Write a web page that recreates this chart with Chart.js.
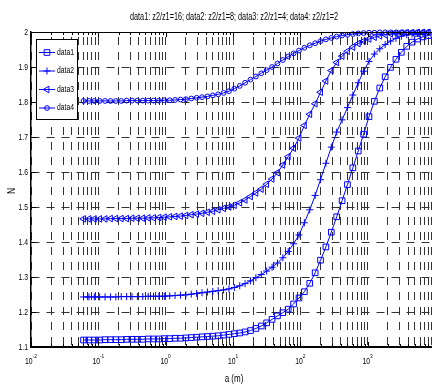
<!DOCTYPE html>
<html><head><meta charset="utf-8">
<script src="https://cdn.jsdelivr.net/npm/chart.js@4.4.1/dist/chart.umd.min.js"></script>
<style>
html,body{margin:0;padding:0;overflow:hidden;background:#fff;width:432px;height:385px}
#wrap{position:absolute;left:0;top:0;width:440px;height:385px}
</style></head>
<body><div id="wrap"><canvas id="c" width="440" height="385"></canvas></div>
<script>
const titleText = "data1: z2/z1=16; data2: z2/z1=8; data3: z2/z1=4; data4: z2/z1=2";
const xAxisLabel = "a (m)";
const yAxisLabel = "N";
const seriesNames = ["data1", "data2", "data3", "data4"];

const aValues = [0.060256, 0.072444, 0.087096, 0.10471, 0.12589, 0.15136, 0.18197, 0.21878, 0.26303, 0.31623,
  0.38019, 0.45709, 0.54954, 0.66069, 0.79433, 0.95499, 1.1482, 1.3804, 1.6596, 1.9953,
  2.3988, 2.8840, 3.4674, 4.1687, 5.0119, 6.0256, 7.2444, 8.7096, 10.471, 12.589,
  15.136, 18.197, 21.878, 26.303, 31.623, 38.019, 45.709, 54.954, 66.069, 79.433,
  95.499, 114.82, 138.04, 165.96, 199.53, 239.88, 288.40, 346.74, 416.87, 501.19,
  602.56, 724.44, 870.96, 1047.1, 1258.9, 1513.6, 1819.7, 2187.8, 2630.3, 3162.3,
  3801.9, 4570.9, 5495.4, 6606.9, 7943.3];

const data1 = [1.120, 1.120, 1.120, 1.120, 1.121, 1.121, 1.121, 1.121, 1.122, 1.122,
  1.122, 1.122, 1.123, 1.123, 1.123, 1.124, 1.124, 1.125, 1.125, 1.126,
  1.127, 1.128, 1.129, 1.130, 1.131, 1.132, 1.134, 1.136, 1.138, 1.140,
  1.143, 1.147, 1.153, 1.160, 1.169, 1.179, 1.189, 1.198, 1.208, 1.223,
  1.240, 1.258, 1.282, 1.312, 1.348, 1.386, 1.428, 1.472, 1.518, 1.564,
  1.612, 1.660, 1.708, 1.758, 1.802, 1.840, 1.872, 1.899, 1.922, 1.942,
  1.959, 1.971, 1.980, 1.986, 1.990];

const data2 = [1.243, 1.243, 1.243, 1.243, 1.243, 1.243, 1.243, 1.244, 1.244, 1.244,
  1.244, 1.244, 1.245, 1.245, 1.245, 1.245, 1.246, 1.247, 1.248, 1.249,
  1.251, 1.253, 1.255, 1.257, 1.259, 1.261, 1.263, 1.266, 1.270, 1.275,
  1.281, 1.289, 1.298, 1.307, 1.317, 1.328, 1.340, 1.355, 1.373, 1.395,
  1.420, 1.455, 1.492, 1.533, 1.578, 1.625, 1.671, 1.714, 1.749, 1.784,
  1.820, 1.855, 1.888, 1.916, 1.937, 1.952, 1.964, 1.974, 1.982, 1.988,
  1.992, 1.994, 1.996, 1.997, 1.998];

const data3 = [1.466, 1.466, 1.466, 1.466, 1.466, 1.467, 1.467, 1.467, 1.467, 1.468,
  1.468, 1.468, 1.469, 1.469, 1.470, 1.471, 1.472, 1.473, 1.474, 1.476,
  1.478, 1.480, 1.482, 1.485, 1.488, 1.492, 1.496, 1.500, 1.505, 1.512,
  1.520, 1.530, 1.540, 1.551, 1.565, 1.580, 1.598, 1.620, 1.644, 1.668,
  1.697, 1.733, 1.765, 1.795, 1.828, 1.860, 1.890, 1.913, 1.931, 1.945,
  1.957, 1.967, 1.974, 1.980, 1.985, 1.989, 1.992, 1.995, 1.996, 1.997,
  1.998, 1.998, 1.999, 1.999, 1.999];

const data4 = [1.803, 1.803, 1.803, 1.803, 1.803, 1.803, 1.803, 1.803, 1.804, 1.804,
  1.804, 1.804, 1.804, 1.804, 1.804, 1.805, 1.805, 1.806, 1.807, 1.808,
  1.810, 1.812, 1.814, 1.816, 1.819, 1.822, 1.826, 1.831, 1.838, 1.846,
  1.855, 1.864, 1.873, 1.882, 1.891, 1.900, 1.910, 1.920, 1.930, 1.939,
  1.947, 1.955, 1.962, 1.968, 1.974, 1.979, 1.983, 1.987, 1.990, 1.992,
  1.994, 1.996, 1.997, 1.998, 1.998, 1.999, 1.999, 1.999, 1.999, 1.999,
  1.999, 1.999, 1.999, 1.999, 1.999];

const xMajorTicks = [0.01, 0.1, 1, 10, 100, 1000, 10000];
const xLabelTicks = [0.01, 0.1, 1, 10, 100, 1000];
const xTickExponents = ["-2", "-1", "0", "1", "2", "3"];
const xMinorMultipliers = [2, 3, 4, 5, 6, 7, 8, 9];
const yTicks = [1.1, 1.2, 1.3, 1.4, 1.5, 1.6, 1.7, 1.8, 1.9, 2.0];
const yTickLabels = ["1.1", "1.2", "1.3", "1.4", "1.5", "1.6", "1.7", "1.8", "1.9", "2"];

const BLUE = '#0000ff';
const FONT = '"Liberation Sans", Arial, Helvetica, sans-serif';

const xGrid = [];
xMajorTicks.forEach((m, i) => {
  xGrid.push(m);
  if (i < xMajorTicks.length - 1) xMinorMultipliers.forEach(k => xGrid.push(+(m * k).toPrecision(6)));
});
const majorSet = new Set(xMajorTicks);

const pts = arr => aValues.map((a, i) => ({x: a, y: arr[i]}));
const markerStyles = [
  {pointStyle: 'rect', pointRadius: 4, pointRotation: 0},
  {pointStyle: 'cross', pointRadius: 3.5, pointRotation: 0},
  {pointStyle: 'triangle', pointRadius: 3.8, pointRotation: -90},
  {pointStyle: 'circle', pointRadius: 2.4, pointRotation: 0}
];
const seriesData = [data1, data2, data3, data4];

const datasets = seriesData.map((d, i) => Object.assign({
  label: seriesNames[i],
  data: pts(d),
  borderColor: BLUE,
  borderWidth: 1,
  pointBorderColor: BLUE,
  pointBackgroundColor: 'rgba(0,0,0,0)',
  pointBorderWidth: 1,
  fill: false,
  tension: 0,
  clip: false
}, markerStyles[i]));

function narrowText(ctx, text, x, y, size, sx, align, baseline) {
  ctx.save();
  ctx.font = size + 'px ' + FONT;
  ctx.textAlign = align;
  ctx.textBaseline = baseline;
  ctx.translate(x, y);
  ctx.scale(sx, 1);
  ctx.fillText(text, 0, 0);
  ctx.restore();
}

function drawMarker(ctx, style, radius, rotation, x, y) {
  if (Chart.helpers && Chart.helpers.drawPoint) {
    Chart.helpers.drawPoint(ctx, {pointStyle: style, radius: radius, rotation: rotation, borderWidth: 1}, x, y);
    return;
  }
  ctx.beginPath();
  if (style === 'circle') ctx.arc(x, y, radius, 0, Math.PI * 2);
  ctx.stroke();
}

const decor = {
  id: 'decor',
  afterDraw(chart) {
    const ctx = chart.ctx, ca = chart.chartArea, xs = chart.scales.x, ys = chart.scales.y;
    ctx.save();
    ctx.setLineDash([]);
    ctx.strokeStyle = '#000';
    ctx.lineWidth = 1;
    // top border
    ctx.beginPath();
    ctx.moveTo(ca.left, ca.top + 0.5);
    ctx.lineTo(ca.right, ca.top + 0.5);
    ctx.stroke();
    // inward tick marks
    ctx.beginPath();
    xGrid.forEach(v => {
      const px = Math.round(xs.getPixelForValue(v)) + 0.5;
      const len = majorSet.has(v) ? 5 : 3;
      ctx.moveTo(px, ca.bottom); ctx.lineTo(px, ca.bottom - len);
      ctx.moveTo(px, ca.top); ctx.lineTo(px, ca.top + len);
    });
    yTicks.forEach(v => {
      const py = Math.round(ys.getPixelForValue(v)) + 0.5;
      ctx.moveTo(ca.left, py); ctx.lineTo(ca.left + 5, py);
    });
    ctx.stroke();

    ctx.fillStyle = '#000';
    // y tick labels
    yTicks.forEach((v, i) => {
      narrowText(ctx, yTickLabels[i], ca.left - 3, ys.getPixelForValue(v) + 0.5, 8.5, 0.8, 'right', 'middle');
    });
    // x tick labels with superscript exponent
    xLabelTicks.forEach((v, i) => {
      const px = xs.getPixelForValue(v);
      ctx.font = '8.5px ' + FONT;
      const w1 = ctx.measureText('10').width * 0.8;
      ctx.font = '6px ' + FONT;
      const w2 = ctx.measureText(xTickExponents[i]).width * 0.8;
      const start = px - (w1 + w2) / 2;
      narrowText(ctx, '10', start, 364, 8.5, 0.8, 'left', 'alphabetic');
      narrowText(ctx, xTickExponents[i], start + w1, 357.5, 6, 0.8, 'left', 'alphabetic');
    });
    // axis titles
    narrowText(ctx, xAxisLabel, 234, 382, 10, 0.8, 'center', 'alphabetic');
    ctx.save();
    ctx.translate(12, 191);
    ctx.rotate(-Math.PI / 2);
    narrowText(ctx, yAxisLabel, 0, 0, 10, 0.85, 'center', 'middle');
    ctx.restore();
    // title
    ctx.font = '11.5px ' + FONT;
    const tw = ctx.measureText(titleText).width;
    narrowText(ctx, titleText, 234, 19.5, 11.5, 208 / tw, 'center', 'alphabetic');

    // legend
    const lx = 36, ly = 39, lw = 41, lh = 80;
    ctx.fillStyle = '#fff';
    ctx.fillRect(lx, ly, lw, lh);
    ctx.strokeStyle = '#000';
    ctx.lineWidth = 1;
    ctx.strokeRect(lx + 0.5, ly + 0.5, lw, lh);
    const rowsY = [52.5, 71, 89.5, 108];
    seriesNames.forEach((name, i) => {
      const y = rowsY[i];
      ctx.strokeStyle = BLUE;
      ctx.lineWidth = 1;
      ctx.beginPath();
      ctx.moveTo(39, y); ctx.lineTo(55, y);
      ctx.stroke();
      const ms = markerStyles[i];
      ctx.save();
      ctx.strokeStyle = BLUE;
      ctx.fillStyle = 'rgba(0,0,0,0)';
      ctx.lineWidth = 1;
      drawMarker(ctx, ms.pointStyle, ms.pointRadius, ms.pointRotation, 47, y);
      ctx.restore();
      ctx.fillStyle = '#000';
      narrowText(ctx, name, 57, y, 8.5, 0.8, 'left', 'middle');
    });
    ctx.restore();
  }
};

new Chart(document.getElementById('c'), {
  type: 'line',
  data: {datasets: datasets},
  options: {
    responsive: false,
    animation: false,
    devicePixelRatio: 1,
    events: [],
    layout: {padding: {left: 31, top: 32, right: 1, bottom: 38}},
    plugins: {legend: {display: false}, title: {display: false}, tooltip: {enabled: false}},
    scales: {
      x: {
        type: 'logarithmic', min: 0.01, max: 10000,
        afterBuildTicks: s => { s.ticks = xGrid.map(v => ({value: v})); },
        ticks: {display: false},
        grid: {color: '#333', lineWidth: 1, drawTicks: false},
        border: {display: true, color: '#000', width: 2, dash: [8, 7], dashOffset: 10}
      },
      y: {
        type: 'linear', min: 1.1, max: 2,
        afterBuildTicks: s => { s.ticks = yTicks.map(v => ({value: v})); },
        ticks: {display: false},
        grid: {color: '#333', lineWidth: 1, drawTicks: false},
        border: {display: true, color: '#000', width: 1.5, dash: [8, 7], dashOffset: 0}
      }
    }
  },
  plugins: [decor]
});
</script>
</body></html>
